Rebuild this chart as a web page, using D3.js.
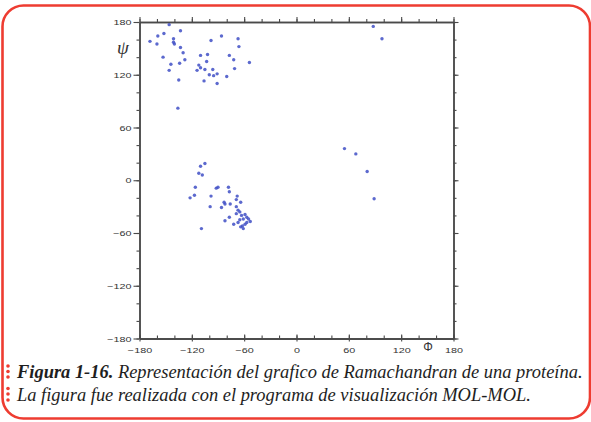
<!DOCTYPE html>
<html>
<head>
<meta charset="utf-8">
<script src="https://cdn.jsdelivr.net/npm/d3@7"></script>
<style>
  body { margin: 0; background: #fff; }
  svg { display: block; }
</style>
</head>
<body>
<svg id="chart" width="591" height="422"></svg>
<script>
// phi / psi angles (degrees)
const phi = [
  -146, -152, -133, -159, -168, -160, -141, -141, -140, -133,
  -130, -153, -128, -134, -144, -146, -135, -136, -98, -86,
  -67, -66, -110, -102, -77, -103, -112, -110, -114, -105,
  -96, -72, -54, -71, -100, -95, -91, -80, -106, -91,
  55, 68, 81, 89, 88, 98,
  -105, -110, -112, -108, -116, -92, -90, -78, -77, -117,
  -122, -98, -68, -69, -83, -82, -76, -64, -99, -86,
  -69, -67, -65, -77, -82, -72, -62, -61, -64, -109,
  -69, -63, -59, -57, -55, -61, -65, -53, -57, -67, -59
];
const psi = [
  177, 167, 170, 164, 158, 155, 161, 157, 155, 151,
  145, 140, 137, 133, 132, 125, 114, 82, 159, 164,
  161, 152, 142, 143, 142, 135, 131, 128, 125, 126,
  126, 137, 134, 127, 120, 119, 121, 118, 113, 110,
  36, 30, 10, -21, 175, 161,
  19, 16, 8, 6, -8, -9, -8, -8, -13, -17,
  -20, -18, -18, -22, -25, -27, -27, -25, -30, -31,
  -30, -34, -36, -42, -46, -50, -52, -55, -53, -55,
  -38, -40, -39, -42, -44, -44, -45, -47, -48, -48, -50
];

const majorTicks = [-180, -120, -60, 0, 60, 120, 180];
const minorTicks = d3.range(-180, 181, 20);

const captionBold = "Figura 1-16.";
const captionLine1 = " Representación del grafico de Ramachandran de una proteína.";
const captionLine2 = "La figura fue realizada con el programa de visualización MOL-MOL.";

const svg = d3.select("#chart");

// red rounded frame
svg.append("rect")
    .attr("x", 2.5).attr("y", 5.5)
    .attr("width", 587.5).attr("height", 413)
    .attr("rx", 21)
    .attr("fill", "#fff")
    .attr("stroke", "#ee3c31")
    .attr("stroke-width", 2.6);

const x = d3.scaleLinear().domain([-180, 180]).range([139.5, 453.5]);
const y = d3.scaleLinear().domain([-180, 180]).range([338.5, 22]);

const axisColor = "#4a4a4a";
const fmt = d3.format("");

function styleAxis(g) {
    g.select(".domain").attr("stroke", axisColor).attr("stroke-width", 1.5);
    g.selectAll(".tick line").attr("stroke", axisColor).attr("stroke-width", 1.1);
    g.selectAll("text")
        .attr("fill", "#333")
        .style("font-family", "'Liberation Sans', Arial, sans-serif")
        .style("font-size", "8px");
}

// left
svg.append("g").attr("transform", `translate(${x(-180)},0)`)
    .call(d3.axisLeft(y).tickValues(minorTicks).tickSize(3).tickSizeOuter(0).tickFormat(""))
    .call(styleAxis);
const leftMajor = svg.append("g").attr("transform", `translate(${x(-180)},0)`)
    .call(d3.axisLeft(y).tickValues(majorTicks).tickSize(6).tickSizeOuter(0).tickPadding(2).tickFormat(fmt))
    .call(styleAxis);
leftMajor.selectAll("text")
    .style("transform-box", "fill-box")
    .style("transform-origin", "right center")
    .style("transform", "scaleX(1.35)");

// right
svg.append("g").attr("transform", `translate(${x(180)},0)`)
    .call(d3.axisRight(y).tickValues(minorTicks).tickSize(3).tickSizeOuter(0).tickFormat(""))
    .call(styleAxis);
svg.append("g").attr("transform", `translate(${x(180)},0)`)
    .call(d3.axisRight(y).tickValues(majorTicks).tickSize(5).tickSizeOuter(0).tickFormat(""))
    .call(styleAxis);

// top
svg.append("g").attr("transform", `translate(0,${y(180)})`)
    .call(d3.axisTop(x).tickValues(minorTicks).tickSize(3).tickSizeOuter(0).tickFormat(""))
    .call(styleAxis);
svg.append("g").attr("transform", `translate(0,${y(180)})`)
    .call(d3.axisTop(x).tickValues(majorTicks).tickSize(5).tickSizeOuter(0).tickFormat(""))
    .call(styleAxis);

// bottom
svg.append("g").attr("transform", `translate(0,${y(-180)})`)
    .call(d3.axisBottom(x).tickValues(minorTicks).tickSize(-3).tickSizeOuter(0).tickFormat(""))
    .call(styleAxis);
svg.append("g").attr("transform", `translate(0,${y(-180)})`)
    .call(d3.axisBottom(x).tickValues(majorTicks).tickSize(-4).tickSizeOuter(0).tickFormat(""))
    .call(styleAxis);
const bottomMajor = svg.append("g").attr("transform", `translate(0,${y(-180)})`)
    .call(d3.axisBottom(x).tickValues(majorTicks).tickSize(3).tickSizeOuter(0).tickPadding(5.5).tickFormat(fmt))
    .call(styleAxis);
bottomMajor.selectAll("text")
    .style("transform-box", "fill-box")
    .style("transform-origin", "center")
    .style("transform", "scaleX(1.35)");

// axis symbols
svg.append("text")
    .attr("x", 428).attr("y", 351)
    .attr("text-anchor", "middle")
    .attr("fill", "#333")
    .style("font-family", "'Liberation Sans', Arial, sans-serif")
    .style("font-size", "12px")
    .text("Φ");
svg.append("text")
    .attr("x", 123).attr("y", 54)
    .attr("text-anchor", "middle")
    .attr("fill", "#333")
    .style("font-family", "'Liberation Serif', serif")
    .style("font-style", "italic")
    .style("font-size", "19px")
    .text("ψ");

// points
svg.append("g")
    .selectAll("circle")
    .data(phi.map((p, i) => [p, psi[i]]))
    .join("circle")
    .attr("cx", d => x(d[0]))
    .attr("cy", d => y(d[1]))
    .attr("r", 1.7)
    .attr("fill", "#3f4fc6")
    .attr("fill-opacity", 0.85);

// caption
const capFont = "'Liberation Serif', 'Times New Roman', serif";
const t1 = svg.append("text")
    .attr("x", 17).attr("y", 378)
    .attr("fill", "#1e1e1e")
    .style("font-family", capFont)
    .style("font-style", "italic")
    .style("font-size", "17px");
t1.append("tspan").style("font-weight", "bold").text(captionBold);
t1.append("tspan").text(captionLine1);
const t2 = svg.append("text")
    .attr("x", 17).attr("y", 401)
    .attr("fill", "#1e1e1e")
    .style("font-family", capFont)
    .style("font-style", "italic")
    .style("font-size", "17px")
    .text(captionLine2);

const w1 = t1.node().getComputedTextLength();
const fs = 17 * 566 / w1;
t1.style("font-size", fs + "px");
t2.style("font-size", fs + "px");

// red bullet dots
svg.append("g")
    .selectAll("circle")
    .data([366, 371.5, 377, 388.5, 394, 400])
    .join("circle")
    .attr("cx", 8)
    .attr("cy", d => d)
    .attr("r", 1.8)
    .attr("fill", "#ee3c31");
</script>
</body>
</html>
